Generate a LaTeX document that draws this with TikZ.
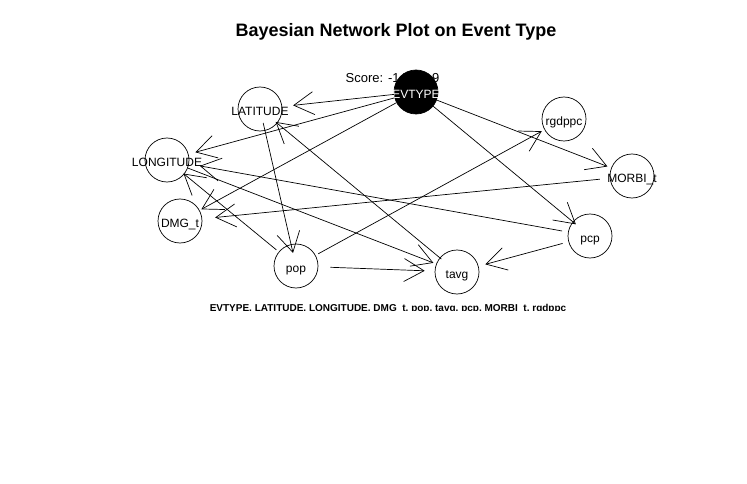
\documentclass[tikz,border=0pt]{standalone}
\usepackage{fontspec}
\setmainfont{Liberation Sans}
\usetikzlibrary{arrows.meta}

\begin{document}
\begin{tikzpicture}[x=1pt, y=-1pt, line width=0.7pt,
  main/.style = {draw, circle, minimum size=44pt, inner sep=0pt, text height=13pt, text depth=0pt, font=\fontsize{12}{14}\selectfont},
  >={Straight Barb[angle=60:23pt]}]
\useasboundingbox (0,0) rectangle (747,484);
\node (title) at (396,32) {\fontsize{18}{20}\selectfont\bfseries Bayesian Network Plot on Event Type};
\node[anchor=west, font=\fontsize{13}{15}\selectfont] (score) at (342,78) {Score: -14239.9};
\node[main, fill=black, text=white] (1) at (416,92) {\makebox[0pt]{EVTYPE}};
\node[main] (2) at (260,109) {\makebox[0pt]{LATITUDE}};
\node[main] (3) at (167,160) {\makebox[0pt]{LONGITUDE}};
\node[main] (4) at (180,221) {\makebox[0pt]{DMG\_t}};
\node[main] (5) at (296,266) {\makebox[0pt]{pop}};
\node[main] (6) at (457,272) {\makebox[0pt]{tavg}};
\node[main] (7) at (590,236) {\makebox[0pt]{pcp}};
\node[main] (8) at (632,176) {\makebox[0pt]{MORBI\_t}};
\node[main] (9) at (564,119) {\makebox[0pt]{rgdppc}};
\begin{scope}
\clip (0,0) rectangle (747,310.5);
\node[anchor=base, font=\fontsize{10}{12}\selectfont\bfseries] (vars) at (388,311) {EVTYPE, LATITUDE, LONGITUDE, DMG\_t, pop, tavg, pcp, MORBI\_t, rgdppc};
\end{scope}
\draw[->, shorten >=11pt] (1) -- (2);
\draw[->, shorten >=7pt] (1) -- (3);
\draw[->, shorten >=2pt] (1) -- (4);
\draw[->, shorten >=4pt] (1) -- (8);
\draw[->, shorten >=-4pt] (1) -- (7);
\draw[->, shorten <=3pt, shorten >=3pt] (5) -- (9);
\draw[->, shorten <=10pt, shorten >=13pt] (8) -- (4);
\draw[->, shorten <=6pt, shorten >=7pt] (7) -- (6);
\draw[->, shorten <=12pt, shorten >=10pt] (5) -- (6);
\draw[->, shorten >=3pt] (3) -- (6);
\draw[->, shorten <=-2pt, shorten >=-2pt] (6) -- (2);
\draw[->, shorten <=-8pt, shorten >=-9pt] (2) -- (5);
\draw[->, shorten <=6pt, shorten >=11pt] (7) -- (3);
\draw[->, shorten <=3pt, shorten >=-1pt] (5) -- (3);
\end{tikzpicture}
\end{document}
